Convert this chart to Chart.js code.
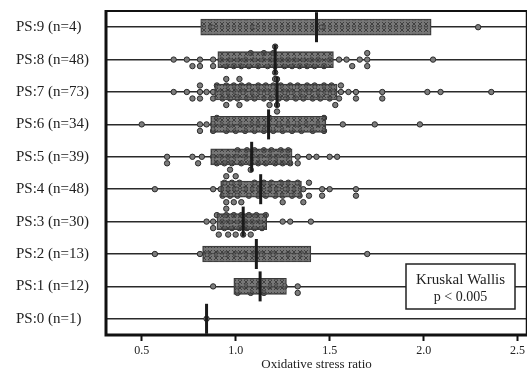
<!DOCTYPE html>
<html>
<head>
<meta charset="utf-8">
<script src="https://cdn.jsdelivr.net/npm/chart.js@4.4.1/dist/chart.umd.min.js"></script>
<style>
  html, body { margin: 0; padding: 0; background: #fff; }
  #wrap { width: 527px; height: 372px; }
</style>
</head>
<body>
<div id="wrap"><canvas id="myChart"></canvas></div>
<script>
// groups, bottom (index 0) to top (index 9)
const groups = ['PS:0 (n=1)', 'PS:1 (n=12)', 'PS:2 (n=13)', 'PS:3 (n=30)', 'PS:4 (n=48)',
                'PS:5 (n=39)', 'PS:6 (n=34)', 'PS:7 (n=73)', 'PS:8 (n=48)', 'PS:9 (n=4)'];
const q1 = [0.845, 0.99, 0.824, 0.90, 0.92, 0.867, 0.867, 0.888, 0.905, 0.814];
const q3 = [0.845, 1.27, 1.40, 1.165, 1.35, 1.30, 1.48, 1.54, 1.52, 2.04];
const medians = [0.845, 1.13, 1.11, 1.04, 1.133, 1.085, 1.175, 1.22, 1.21, 1.43];
const xTicks = [0.5, 1.0, 1.5, 2.0, 2.5];

const ps0 = [0.845];
const ps1 = [0.88, 1.01, 1.01, 1.05, 1.08, 1.12, 1.15, 1.18, 1.22, 1.26, 1.33, 1.33];
const ps2 = [0.57, 0.81, 0.85, 0.90, 0.95, 1.00, 1.05, 1.10, 1.14, 1.20, 1.28, 1.35, 1.70];
const ps3 = [0.845, 0.88, 0.88, 0.90, 0.91, 0.93, 0.94, 0.95, 0.96, 0.97, 0.98, 0.99, 1.00, 1.01,
             1.02, 1.03, 1.04, 1.05, 1.06, 1.07, 1.08, 1.09, 1.10, 1.11, 1.13, 1.14, 1.16,
             1.25, 1.29, 1.40];
const ps4 = [0.57, 0.88, 0.92, 0.93, 0.94, 0.95, 0.95, 0.95, 0.96, 0.97, 0.97, 0.98, 0.99, 1.00,
             1.00, 1.01, 1.02, 1.03, 1.05, 1.07, 1.09, 1.10, 1.12, 1.13, 1.15, 1.16, 1.18, 1.19,
             1.21, 1.22, 1.24, 1.25, 1.25, 1.27, 1.28, 1.30, 1.31, 1.33, 1.34,
             1.36, 1.36, 1.39, 1.39, 1.46, 1.46, 1.50, 1.64, 1.64];
const ps5 = [0.635, 0.635, 0.77, 0.80, 0.82, 0.88, 0.90, 0.92, 0.94, 0.96, 0.98, 1.00, 1.01, 1.03,
             1.05, 1.06, 1.08, 1.08, 1.09, 1.10, 1.12, 1.13, 1.15, 1.16, 1.18, 1.19, 1.21, 1.22,
             1.24, 1.25, 1.27, 1.28, 1.29, 1.33, 1.33, 1.39, 1.43, 1.50, 1.54];
const ps6 = [0.50, 0.81, 0.81, 0.845, 0.88, 0.88, 0.90, 0.92, 0.95, 0.97, 1.00, 1.03, 1.05, 1.08,
             1.10, 1.12, 1.15, 1.17, 1.18, 1.20, 1.23, 1.25, 1.28, 1.30, 1.33, 1.35, 1.38, 1.41,
             1.44, 1.47, 1.47, 1.57, 1.74, 1.98];
const ps7 = [0.67, 0.74, 0.77, 0.81, 0.81, 0.81, 0.845, 0.88, 0.88,
             0.90, 0.92, 0.93, 0.95, 0.95, 0.95, 0.96, 0.97, 0.99, 1.00, 1.01, 1.02, 1.02, 1.03,
             1.04, 1.06, 1.07, 1.09, 1.10, 1.12, 1.13, 1.15, 1.16, 1.17, 1.18, 1.19, 1.20, 1.21,
             1.21, 1.22, 1.22, 1.23, 1.24, 1.26, 1.27, 1.29, 1.30, 1.32, 1.33, 1.35, 1.36, 1.38,
             1.39, 1.41, 1.42, 1.44, 1.45, 1.47, 1.48, 1.50, 1.51, 1.52, 1.53,
             1.55, 1.56, 1.56, 1.60, 1.64, 1.64, 1.78, 1.78, 2.02, 2.09, 2.36];
const ps8 = [0.67, 0.74, 0.77, 0.81, 0.81, 0.88, 0.88,
             0.92, 0.95, 0.97, 0.99, 1.01, 1.03, 1.05, 1.07, 1.08, 1.10, 1.12, 1.14, 1.15, 1.17,
             1.19, 1.20, 1.21, 1.21, 1.21, 1.22, 1.24, 1.26, 1.28, 1.30, 1.32, 1.34, 1.36, 1.38,
             1.40, 1.42, 1.44, 1.47, 1.50,
             1.55, 1.59, 1.62, 1.66, 1.70, 1.70, 1.70, 2.05];
const ps9 = [0.87, 1.09, 1.46, 2.29];
const samples = [ps0, ps1, ps2, ps3, ps4, ps5, ps6, ps7, ps8, ps9];

// beeswarm: stack close values up/down from the row line
const gapX = 6 / 188;   // dot width in x units
const stepY = 6.5 / 32.4; // one dot height in row units
function swarm(values, row) {
    const placed = [];
    return values.slice().sort((a, b) => a - b).map(v => {
        let level = 0;
        for (let k = 0; ; k++) {
            level = k === 0 ? 0 : (k % 2 ? -(k + 1) / 2 : k / 2);
            if (!placed.some(p => p.level === level && Math.abs(p.v - v) < gapX)) break;
        }
        placed.push({ v, level });
        return { x: v, y: row + level * stepY };
    });
}
const dots = samples.flatMap((s, i) => swarm(s, i));

// crosshatch fill for the boxes (a bit see-through so the dots show)
const pc = document.createElement('canvas');
pc.width = 6; pc.height = 6;
const p = pc.getContext('2d');
p.fillStyle = 'rgba(85,85,85,0.8)';
p.fillRect(0, 0, 6, 6);
p.strokeStyle = 'rgba(55,55,55,0.85)';
p.lineWidth = 1;
p.beginPath();
p.moveTo(0, 0); p.lineTo(6, 6);
p.moveTo(6, 0); p.lineTo(0, 6);
p.stroke();
p.fillStyle = 'rgba(135,135,135,0.75)';
p.fillRect(2, 2, 2, 2);
const hatch = p.createPattern(pc, 'repeat');

const noPad = s => { s.paddingTop = 0; s.paddingBottom = 0; s.paddingLeft = 0; s.paddingRight = 0; };

const framePlugin = {
    id: 'frame',
    afterDraw(chart) {
        const { ctx, chartArea: a } = chart;
        ctx.save();
        ctx.strokeStyle = '#111';
        ctx.lineWidth = 2;
        ctx.beginPath();
        ctx.moveTo(a.left, a.top); ctx.lineTo(a.right, a.top);
        ctx.stroke();
        ctx.lineWidth = 1.5;
        ctx.beginPath();
        ctx.moveTo(a.right - 0.5, a.top); ctx.lineTo(a.right - 0.5, a.bottom);
        ctx.stroke();
        ctx.lineWidth = 3;
        ctx.beginPath();
        ctx.moveTo(a.left, a.top - 1); ctx.lineTo(a.left, a.bottom); ctx.lineTo(a.right, a.bottom);
        ctx.stroke();

        // Kruskal Wallis note
        const bx = a.right - 121, by = a.bottom - 71, bw = 109, bh = 45;
        ctx.fillStyle = '#fff';
        ctx.fillRect(bx, by, bw, bh);
        ctx.lineWidth = 1.5;
        ctx.strokeStyle = '#222';
        ctx.strokeRect(bx, by, bw, bh);
        ctx.fillStyle = '#222';
        ctx.textAlign = 'center';
        ctx.textBaseline = 'middle';
        ctx.font = '15px "Liberation Serif"';
        ctx.fillText('Kruskal Wallis', bx + bw / 2, by + 16);
        ctx.font = '14px "Liberation Serif"';
        ctx.fillText('p < 0.005', bx + bw / 2, by + 33);
        ctx.restore();
    }
};

new Chart(document.getElementById('myChart'), {
    type: 'scatter',
    data: {
        datasets: [{
            type: 'scatter',
            data: medians.map((m, i) => ({ x: m, y: i })),
            pointStyle: 'line',
            rotation: 90,
            radius: 15,
            borderWidth: 3,
            borderColor: '#1a1a1a',
            order: 1
        }, {
            type: 'bar',
            indexAxis: 'y',
            data: q1.map((a, i) => ({ y: i, x: [a, q3[i]] })),
            backgroundColor: hatch,
            borderColor: '#3a3a3a',
            borderWidth: 1,
            borderSkipped: false,
            barThickness: 16,
            order: 2
        }, {
            type: 'scatter',
            data: dots,
            pointStyle: 'circle',
            radius: 2.7,
            borderWidth: 1,
            backgroundColor: '#7c7c7c',
            borderColor: '#2b2b2b',
            order: 3
        }]
    },
    options: {
        responsive: true,
        maintainAspectRatio: false,
        animation: false,
        layout: { autoPadding: false, padding: { left: 16, top: 11, right: 0, bottom: 0 } },
        plugins: {
            legend: { display: false },
            tooltip: { enabled: false }
        },
        scales: {
            x: {
                type: 'linear',
                min: 0.31,
                max: 2.55,
                offset: false,
                afterFit: s => { s.height = 37; noPad(s); },
                afterBuildTicks: s => { s.ticks = xTicks.map(v => ({ value: v })); },
                border: { display: false },
                grid: { offset: false, drawOnChartArea: false, tickLength: 6, tickWidth: 2, tickColor: '#111' },
                ticks: {
                    padding: 3,
                    color: '#222',
                    font: { family: 'Liberation Serif', size: 12 },
                    callback: v => v.toFixed(1)
                },
                title: {
                    display: true,
                    text: 'Oxidative stress ratio',
                    color: '#222',
                    font: { family: 'Liberation Serif', size: 13 },
                    padding: { top: 0, bottom: 0 }
                }
            },
            y: {
                type: 'linear',
                min: -0.5,
                max: 9.5,
                offset: false,
                afterFit: s => { s.width = 90; noPad(s); },
                afterBuildTicks: s => { s.ticks = groups.map((g, i) => ({ value: i })); },
                border: { display: false },
                grid: { offset: false, color: '#2a2a2a', lineWidth: 1.5, drawTicks: false },
                ticks: {
                    crossAlign: 'far',
                    color: '#222',
                    font: { family: 'Liberation Serif', size: 15 },
                    callback: v => groups[v]
                }
            }
        }
    },
    plugins: [framePlugin]
});
</script>
</body>
</html>
